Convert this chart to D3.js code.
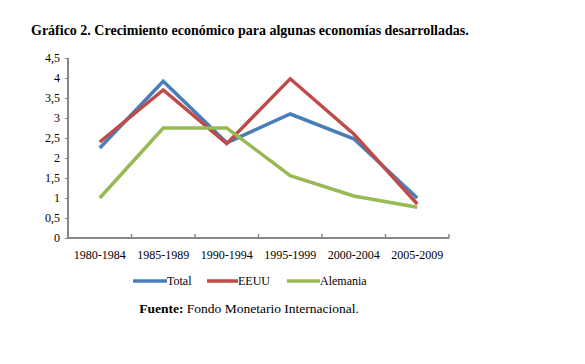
<!DOCTYPE html>
<html>
<head>
<meta charset="utf-8">
<title>Crecimiento económico</title>
<script src="https://d3js.org/d3.v7.min.js"></script>
<style>
  body { margin: 0; background: #fff; }
  text { font-family: "Liberation Serif", "Times New Roman", serif; }
</style>
</head>
<body>
<div id="chart"></div>
<script>
// datos
let periodos = ["1980-1984", "1985-1989", "1990-1994", "1995-1999", "2000-2004", "2005-2009"];
let total    = [2.25, 3.92, 2.38, 3.1, 2.48, 1.0];
let eeuu     = [2.4, 3.7, 2.36, 3.98, 2.6, 0.85];
let alemania = [1.0, 2.75, 2.75, 1.56, 1.05, 0.77];
let yTicks   = [0, 0.5, 1, 1.5, 2, 2.5, 3, 3.5, 4, 4.5];

let series = [
  {nombre: "Total", valores: total, color: "#4a7ebb"},
  {nombre: "EEUU", valores: eeuu, color: "#be4b48"},
  {nombre: "Alemania", valores: alemania, color: "#98b954"}
];

let W = 585, H = 364;
let margin = {top: 58, left: 68, right: 136, bottom: 126};
let w = W - margin.left - margin.right;
let h = H - margin.top - margin.bottom;

let svg = d3.select("#chart").append("svg")
  .attr("width", W).attr("height", H);

// titulo
svg.append("text")
  .attr("x", 31).attr("y", 35)
  .attr("font-size", "14px")
  .attr("font-weight", "bold")
  .text("Gráfico 2. Crecimiento económico para algunas economías desarrolladas.");

let g = svg.append("g")
  .attr("transform", "translate(" + margin.left + "," + margin.top + ")");

let x = d3.scaleBand().domain(periodos).range([0, w]);
let y = d3.scaleLinear().domain([0, 4.5]).range([h, 0]);

let fmt = d => String(d).replace(".", ",");

// eje y
let yAxis = g.append("g")
  .call(d3.axisLeft(y).tickValues(yTicks).tickSize(3).tickPadding(5).tickFormat(fmt));
yAxis.select(".domain").attr("stroke", "#868686").attr("stroke-width", 2).attr("d", "M0," + h + "V0");
yAxis.selectAll(".tick line").attr("stroke", "#868686");
yAxis.selectAll(".tick text").attr("font-size", "12px").attr("fill", "#000")
  .style("font-family", "'Liberation Serif', serif");

// eje x
let xAxis = g.append("g")
  .attr("transform", "translate(0," + h + ")")
  .call(d3.axisBottom(x).tickSize(0).tickPadding(12));
xAxis.select(".domain").attr("stroke", "#868686").attr("stroke-width", 2).attr("d", "M0,0H" + w);
xAxis.selectAll(".tick text").attr("font-size", "12px").attr("fill", "#000")
  .style("font-family", "'Liberation Serif', serif");
// marcas entre categorias
g.selectAll(".sep")
  .data(periodos)
  .enter().append("line")
  .attr("x1", d => x(d) + x.bandwidth())
  .attr("x2", d => x(d) + x.bandwidth())
  .attr("y1", h).attr("y2", h - 4)
  .attr("stroke", "#868686").attr("stroke-width", 1.5);

// lineas
let line = d3.line()
  .x((d, i) => x(periodos[i]) + x.bandwidth() / 2)
  .y(d => y(d));

g.selectAll(".serie")
  .data(series)
  .enter().append("path")
  .attr("fill", "none")
  .attr("stroke", d => d.color)
  .attr("stroke-width", 3.5)
  .attr("stroke-linejoin", "miter")
  .attr("d", d => line(d.valores));

// leyenda
let legX = [133, 207, 287];
let legW = [34, 31, 33];
let leg = svg.selectAll(".leg")
  .data(series)
  .enter().append("g")
  .attr("transform", (d, i) => "translate(" + legX[i] + ",281)");
leg.append("line")
  .attr("x1", 0).attr("x2", (d, i) => legW[i])
  .attr("stroke", d => d.color).attr("stroke-width", 3.5);
leg.append("text")
  .attr("x", (d, i) => legW[i]).attr("y", 4)
  .attr("font-size", "12px")
  .text(d => d.nombre);

// fuente
let f = svg.append("text")
  .attr("x", 249).attr("y", 313)
  .attr("text-anchor", "middle")
  .attr("font-size", "13.5px");
f.append("tspan").attr("font-weight", "bold").text("Fuente:");
f.append("tspan").text(" Fondo Monetario Internacional.");
</script>
</body>
</html>
